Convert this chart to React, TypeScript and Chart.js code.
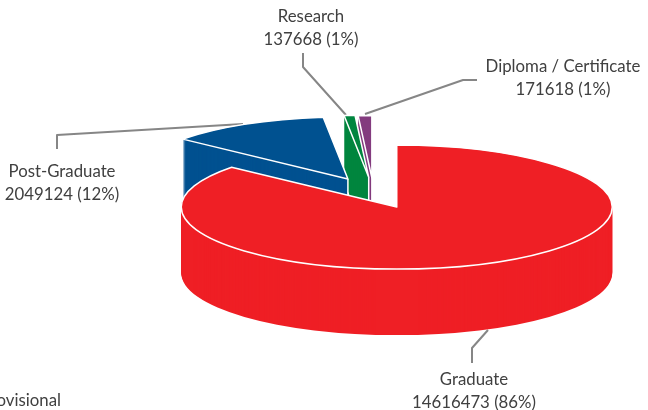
import React, { useEffect, useRef } from "react";
import { Chart, registerables } from "chart.js";

Chart.register(...registerables);

const categories = ["Graduate", "Post-Graduate", "Research", "Diploma / Certificate"];
const values = [14616473, 2049124, 137668, 171618];
const percents = [86, 12, 1, 1];
const colors = ["#EF1F25", "#005190", "#00853F", "#833B7E"];
const explode = [55, 54, 54, 52];
const footnote = "Provisional";

// Draw order, back to front
const drawOrder = [3, 2, 1, 0];

const SQUASH = 0.288;
const DEPTH = 66;
const FONT = '16.8px Lato, "Open Sans", sans-serif';
const TEXT = "#404040";
const LINE = "#868686";

const labelLayout = [
  { x: 474, y: 380, leader: [[488, 330], [472, 348], [472, 363]] },
  { x: 62, y: 172, leader: [[243, 124], [57, 135], [57, 149]] },
  { x: 311, y: 17, leader: [[346, 115], [303, 67], [303, 53]] },
  { x: 563, y: 67, leader: [[365, 114], [463, 80], [477, 80]] },
];

const pie3d = {
  id: "pie3d",
  beforeDatasetsDraw(chart: any) {
    const ctx = chart.ctx as CanvasRenderingContext2D;
    const arcs = chart.getDatasetMeta(0).data;
    const wedge = (arc: any, dy: number) => {
      const mid = (arc.startAngle + arc.endAngle) / 2;
      const off = arc.options.offset;
      const x = arc.x + Math.cos(mid) * off;
      const y = arc.y + Math.sin(mid) * off * SQUASH + dy;
      ctx.beginPath();
      ctx.ellipse(x, y, arc.outerRadius, arc.outerRadius * SQUASH, 0, arc.startAngle, arc.endAngle);
      ctx.lineTo(x, y);
      ctx.closePath();
      return [x, y];
    };
    // leader lines sit behind the pie
    ctx.save();
    ctx.strokeStyle = LINE;
    ctx.lineWidth = 2;
    ctx.lineJoin = "round";
    labelLayout.forEach((l) => {
      ctx.beginPath();
      l.leader.forEach(([px, py], i) => (i ? ctx.lineTo(px, py) : ctx.moveTo(px, py)));
      ctx.stroke();
    });
    drawOrder.forEach((i) => {
      const arc = arcs[i];
      ctx.fillStyle = arc.options.backgroundColor;
      for (let d = DEPTH; d >= 1; d--) {
        wedge(arc, d);
        ctx.fill();
      }
      const [ax, ay] = wedge(arc, 0);
      ctx.strokeStyle = "#ffffff";
      ctx.lineWidth = 1.5;
      // the inner corner only shows on slices that do not wrap round the front
      if (arc.endAngle - arc.startAngle < Math.PI) {
        ctx.beginPath();
        ctx.moveTo(ax, ay);
        ctx.lineTo(ax, ay + DEPTH);
        ctx.stroke();
      }
      wedge(arc, 0);
      ctx.fill();
      ctx.stroke();
    });
    // labels
    ctx.font = FONT;
    ctx.fillStyle = TEXT;
    ctx.textAlign = "center";
    ctx.textBaseline = "middle";
    labelLayout.forEach((l, i) => {
      ctx.fillText(categories[i], l.x, l.y);
      ctx.fillText(`${values[i]} (${percents[i]}%)`, l.x, l.y + 23);
    });
    ctx.textAlign = "right";
    ctx.fillText(footnote, 61, 401);
    ctx.restore();
    return false;
  },
};

export default function App() {
  const ref = useRef<HTMLCanvasElement>(null);
  useEffect(() => {
    const chart = new Chart(ref.current!, {
      type: "pie",
      data: {
        labels: categories,
        datasets: [
          {
            data: values,
            backgroundColor: colors,
            offset: explode,
            borderWidth: 0,
          },
        ],
      },
      options: {
        animation: false,
        responsive: false,
        radius: 215.5,
        layout: { padding: { left: 99, right: 0, top: 0, bottom: 24.6 } },
        plugins: { legend: { display: false }, tooltip: { enabled: false } },
      },
      plugins: [pie3d],
    } as any);
    return () => chart.destroy();
  }, []);
  return (
    <canvas
      ref={ref}
      width={648}
      height={410}
      style={{ position: "absolute", left: 0, top: 0, width: 648, height: 410 }}
    />
  );
}
